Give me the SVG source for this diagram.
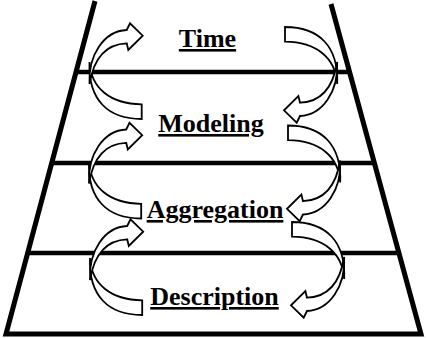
<svg xmlns="http://www.w3.org/2000/svg" width="426" height="338" viewBox="0 0 426 338">
<style>
.frame{fill:none;stroke:#000;stroke-width:5;stroke-linejoin:miter}
.rung{stroke:#000;stroke-width:4.5}
.arr path{fill:#fff;stroke:#000;stroke-width:1.8;stroke-linejoin:miter}
.lbl{font-family:"Liberation Serif","Times New Roman",serif;font-weight:bold;font-size:26px;text-anchor:middle;text-decoration:underline;fill:#000}
</style>
<defs>
<g id="carrow" class="arr">
<path d="M89.5,62 C91,88 110,104 141.7,104.3 L141.7,119 C108,119 88,100 89.5,62 Z"/>
<path d="M89.5,84 C88,55 104,31 126.7,30 L130,23.3 L142.7,35.7 L128.3,50 L126.7,43.3 C108,44 94,56 89.5,84 Z"/>
</g>
</defs>
<g id="frame">
<path class="frame" d="M95,1 L6,334 L421,334 L331,4"/>
<line class="rung" x1="76.5" y1="72" x2="349.5" y2="72"/>
<line class="rung" x1="52" y1="163" x2="374.5" y2="163"/>
<line class="rung" x1="28" y1="253" x2="399" y2="253"/>
</g>
<g id="connectors">
<use href="#carrow"/>
<use href="#carrow" transform="translate(-0.5 99.5)"/>
<use href="#carrow" transform="translate(0.5 196)"/>
<use href="#carrow" transform="rotate(180 213.35 73)"/>
<use href="#carrow" transform="translate(3 98.5) rotate(180 213.35 73)"/>
<use href="#carrow" transform="translate(7 195) rotate(180 213.35 73)"/>
</g>
<g id="time"><text class="lbl" x="207.5" y="47">Time</text></g>
<g id="modeling"><text class="lbl" x="211" y="132">Modeling</text></g>
<g id="aggregation"><text class="lbl" x="215" y="218">Aggregation</text></g>
<g id="description"><text class="lbl" x="214.5" y="305">Description</text></g>
</svg>
